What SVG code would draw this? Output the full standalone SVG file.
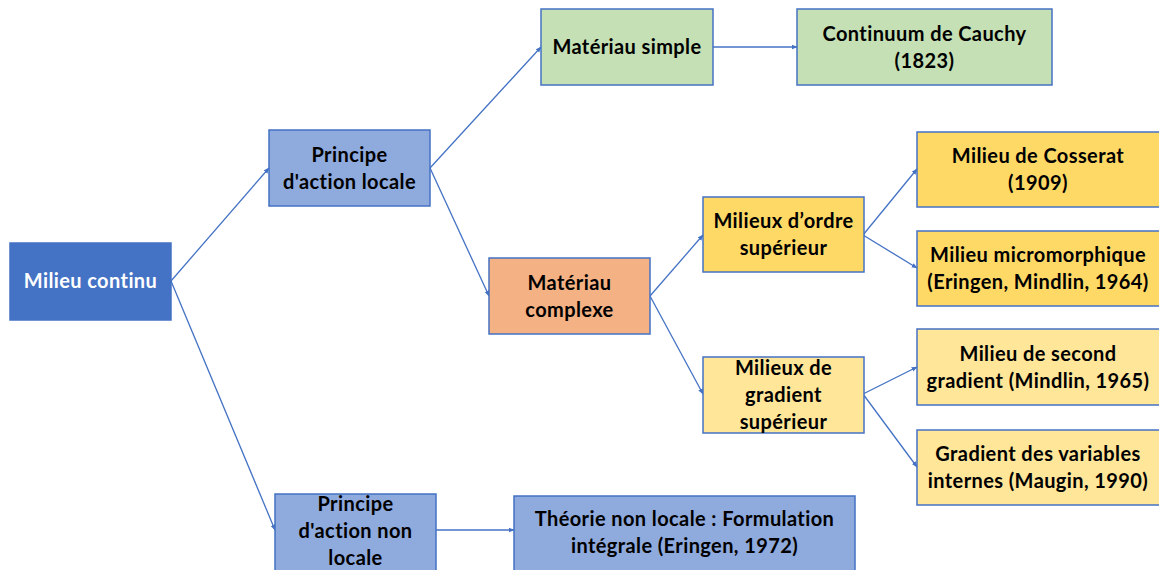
<svg xmlns="http://www.w3.org/2000/svg" width="1159" height="570" viewBox="0 0 1159 570">
<style>
.b{stroke:#4472C4;stroke-width:1.5}
.t{font-family:Lato,"Open Sans",sans-serif;font-weight:bold;font-size:20px;letter-spacing:0.4px;fill:#000;text-anchor:middle}
.w{fill:#fff}
.c{stroke:#4472C4;stroke-width:1.3;fill:none;marker-end:url(#ah)}
</style>
<defs>
<marker id="ah" viewBox="0 0 10 10" refX="9" refY="5" markerWidth="6" markerHeight="6" orient="auto" markerUnits="userSpaceOnUse">
<path d="M0,1 L10,5 L0,9 z" fill="#4472C4"/>
</marker>
</defs>
<rect width="1159" height="570" fill="#fff"/>
<g id="connectors">
<line class="c" x1="171" y1="281" x2="269" y2="168"/>
<line class="c" x1="171" y1="281" x2="275" y2="530"/>
<line class="c" x1="430" y1="168" x2="541" y2="47"/>
<line class="c" x1="430" y1="168" x2="489" y2="296"/>
<line class="c" x1="713" y1="47" x2="797" y2="47"/>
<line class="c" x1="650" y1="296" x2="703" y2="235"/>
<line class="c" x1="650" y1="296" x2="703" y2="394"/>
<line class="c" x1="863" y1="235" x2="917" y2="169"/>
<line class="c" x1="863" y1="235" x2="917" y2="268"/>
<line class="c" x1="863" y1="394" x2="917" y2="367"/>
<line class="c" x1="863" y1="394" x2="917" y2="467"/>
<line class="c" x1="436" y1="530" x2="514" y2="530"/>
</g>
<g id="n-milieu-continu">
<rect class="b" x="10" y="243" width="161" height="77" fill="#4472C4"/>
<text class="t w" x="90.5" y="288">Milieu continu</text>
</g>
<g id="n-principe-locale">
<rect class="b" x="269" y="130" width="161" height="76" fill="#8FAADC"/>
<text class="t" x="349.5" y="162">Principe</text>
<text class="t" x="349.5" y="189">d'action locale</text>
</g>
<g id="n-materiau-simple">
<rect class="b" x="541" y="9" width="172" height="76" fill="#C5E0B4"/>
<text class="t" x="627" y="54">Matériau simple</text>
</g>
<g id="n-cauchy">
<rect class="b" x="797" y="9" width="255" height="76" fill="#C5E0B4"/>
<text class="t" x="924.5" y="41">Continuum de Cauchy</text>
<text class="t" x="924.5" y="68">(1823)</text>
</g>
<g id="n-materiau-complexe">
<rect class="b" x="489" y="258" width="161" height="76" fill="#F4B183"/>
<text class="t" x="569.5" y="290">Matériau</text>
<text class="t" x="569.5" y="317">complexe</text>
</g>
<g id="n-ordre-sup">
<rect class="b" x="703" y="197" width="161" height="75" fill="#FFD966"/>
<text class="t" x="783.5" y="228">Milieux d’ordre</text>
<text class="t" x="783.5" y="255">supérieur</text>
</g>
<g id="n-gradient-sup">
<rect class="b" x="703" y="357" width="161" height="76" fill="#FFE699"/>
<text class="t" x="783.5" y="375">Milieux de</text>
<text class="t" x="783.5" y="402">gradient</text>
<text class="t" x="783.5" y="429">supérieur</text>
</g>
<g id="n-cosserat">
<rect class="b" x="917" y="132" width="245" height="75" fill="#FFD966"/>
<text class="t" x="1038" y="163">Milieu de Cosserat</text>
<text class="t" x="1038" y="190">(1909)</text>
</g>
<g id="n-micromorphique">
<rect class="b" x="917" y="231" width="245" height="75" fill="#FFD966"/>
<text class="t" x="1038" y="262">Milieu micromorphique</text>
<text class="t" x="1038" y="289">(Eringen, Mindlin, 1964)</text>
</g>
<g id="n-second-gradient">
<rect class="b" x="917" y="329" width="245" height="76" fill="#FFE699"/>
<text class="t" x="1038" y="361">Milieu de second</text>
<text class="t" x="1038" y="388">gradient (Mindlin, 1965)</text>
</g>
<g id="n-variables-internes">
<rect class="b" x="917" y="430" width="245" height="75" fill="#FFE699"/>
<text class="t" x="1038" y="461">Gradient des variables</text>
<text class="t" x="1038" y="488">internes (Maugin, 1990)</text>
</g>
<g id="n-principe-non-locale">
<rect class="b" x="275" y="494" width="161" height="78" fill="#8FAADC"/>
<text class="t" x="355.5" y="511">Principe</text>
<text class="t" x="355.5" y="538">d'action non</text>
<text class="t" x="355.5" y="565">locale</text>
</g>
<g id="n-theorie-non-locale">
<rect class="b" x="514" y="496" width="341" height="78" fill="#8FAADC"/>
<text class="t" x="684.5" y="526">Théorie non locale : Formulation</text>
<text class="t" x="684.5" y="553">intégrale (Eringen, 1972)</text>
</g>
</svg>
